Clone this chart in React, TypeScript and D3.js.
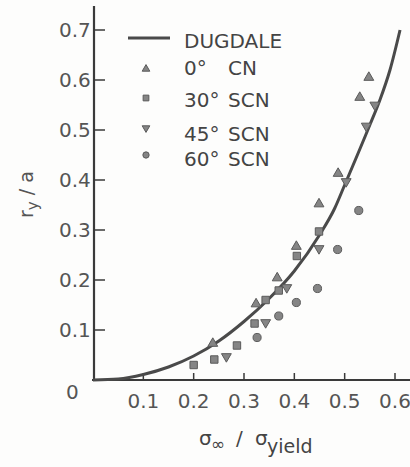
import React, { useRef, useEffect } from 'react';
import * as d3 from 'd3';

// Dugdale curve
const curveX = [0, 0.05, 0.1, 0.15, 0.2, 0.25, 0.3, 0.35, 0.4, 0.45, 0.48, 0.5, 0.55, 0.57, 0.59, 0.61];
const curveY = [0, 0.002, 0.011, 0.026, 0.048, 0.078, 0.117, 0.163, 0.218, 0.29, 0.343, 0.39, 0.51, 0.56, 0.62, 0.7];

// 0 deg CN (triangle up)
const cnX = [0.238, 0.324, 0.366, 0.404, 0.449, 0.487, 0.53, 0.548];
const cnY = [0.073, 0.152, 0.204, 0.267, 0.352, 0.413, 0.565, 0.605];
// 30 deg SCN (square)
const scn30X = [0.2, 0.241, 0.286, 0.321, 0.343, 0.369, 0.405, 0.449];
const scn30Y = [0.03, 0.041, 0.069, 0.113, 0.16, 0.179, 0.248, 0.297];
// 45 deg SCN (triangle down)
const scn45X = [0.265, 0.343, 0.385, 0.449, 0.503, 0.543, 0.56];
const scn45Y = [0.047, 0.115, 0.185, 0.263, 0.397, 0.508, 0.55];
// 60 deg SCN (circle)
const scn60X = [0.326, 0.369, 0.404, 0.446, 0.486, 0.528];
const scn60Y = [0.085, 0.128, 0.155, 0.183, 0.261, 0.339];

const xTicks = [0.1, 0.2, 0.3, 0.4, 0.5, 0.6];
const yTicks = [0.1, 0.2, 0.3, 0.4, 0.5, 0.6, 0.7];
const legendAngles = ['0°', '30°', '45°', '60°'];
const legendNames = ['CN', 'SCN', 'SCN', 'SCN'];

const ink = '#3a3a3a';
const markFill = '#858585';
const font = 'DejaVu Sans, Arial, sans-serif';

const App = () => {
  const ref = useRef<SVGSVGElement>(null);

  useEffect(() => {
    if (!ref.current) return;
    const svg = d3.select(ref.current);
    svg.selectAll('*').remove();

    const x = d3.scaleLinear().domain([0, 0.6]).range([93, 395]);
    const y = d3.scaleLinear().domain([0, 0.7]).range([380, 30]);

    svg.append('rect').attr('width', 410).attr('height', 467).attr('fill', '#fdfdfc');

    // axes
    svg.append('line').attr('x1', 94).attr('x2', 94).attr('y1', 6).attr('y2', 381)
      .attr('stroke', ink).attr('stroke-width', 2.2);
    svg.append('line').attr('x1', 92).attr('x2', 410).attr('y1', 380).attr('y2', 380)
      .attr('stroke', ink).attr('stroke-width', 2.2);

    yTicks.forEach(t => {
      svg.append('line').attr('x1', 94).attr('x2', 105).attr('y1', y(t)).attr('y2', y(t))
        .attr('stroke', ink).attr('stroke-width', 1.5);
      svg.append('text').attr('x', 59).attr('y', y(t)).attr('dy', '0.36em')
        .attr('font-family', font).attr('font-size', 20).attr('fill', '#555')
        .text(String(t));
    });
    svg.append('text').attr('x', 66).attr('y', 399)
      .attr('font-family', font).attr('font-size', 20).attr('fill', '#555').text('0');

    xTicks.forEach(t => {
      svg.append('line').attr('x1', x(t)).attr('x2', x(t)).attr('y1', 380).attr('y2', 373)
        .attr('stroke', ink).attr('stroke-width', 1.5);
      svg.append('text').attr('x', x(t)).attr('y', 408).attr('text-anchor', 'middle')
        .attr('font-family', font).attr('font-size', 20).attr('fill', '#555')
        .text(String(t));
    });

    // axis titles
    const xt = svg.append('text').attr('y', 445)
      .attr('font-family', font).attr('font-size', 20).attr('fill', '#444');
    xt.append('tspan').attr('x', 199).text('σ');
    xt.append('tspan').attr('x', 211).attr('dy', 5).attr('font-size', 17).text('∞');
    xt.append('tspan').attr('x', 236).attr('dy', -5).text('/');
    xt.append('tspan').attr('x', 255).text('σ');
    xt.append('tspan').attr('x', 267).attr('dy', 8).attr('font-size', 19).text('yield');

    const yt = svg.append('text').attr('transform', 'translate(33,218) rotate(-90)')
      .attr('font-family', font).attr('font-size', 19).attr('fill', '#555');
    yt.append('tspan').text('r');
    yt.append('tspan').attr('dy', 5).attr('font-size', 15).text('y');
    yt.append('tspan').attr('dy', -5).text(' / a');

    // Dugdale curve
    const line = d3.line<number>()
      .x((d, i) => x(curveX[i]))
      .y(d => y(d))
      .curve(d3.curveMonotoneX);
    svg.append('path').datum(curveY).attr('d', line).attr('fill', 'none')
      .attr('stroke', '#4a4a4a').attr('stroke-width', 3);

    // markers
    const series = [
      { xs: cnX, ys: cnY, type: d3.symbolTriangle, size: 42, rot: 0 },
      { xs: scn30X, ys: scn30Y, type: d3.symbolSquare, size: 55, rot: 0 },
      { xs: scn45X, ys: scn45Y, type: d3.symbolTriangle, size: 42, rot: 180 },
      { xs: scn60X, ys: scn60Y, type: d3.symbolCircle, size: 52, rot: 0 },
    ];
    series.forEach(s => {
      const path = d3.symbol().type(s.type).size(s.size)();
      svg.append('g').selectAll('path').data(s.ys).join('path')
        .attr('d', path)
        .attr('transform', (d, i) => `translate(${x(s.xs[i])},${y(d)}) rotate(${s.rot})`)
        .attr('fill', markFill).attr('stroke', '#5a5a5a').attr('stroke-width', 1);
    });

    // legend
    svg.append('line').attr('x1', 128).attr('x2', 170).attr('y1', 38).attr('y2', 38)
      .attr('stroke', '#4a4a4a').attr('stroke-width', 3);
    svg.append('text').attr('x', 184).attr('y', 48)
      .attr('font-family', font).attr('font-size', 20).attr('fill', '#444').text('DUGDALE');
    const rowY = [69, 98, 128, 155];
    const baseY = [75, 107, 141, 166];
    series.forEach((s, i) => {
      svg.append('path').attr('d', d3.symbol().type(s.type).size(s.size * 0.6)())
        .attr('transform', `translate(146,${rowY[i]}) rotate(${s.rot})`)
        .attr('fill', markFill).attr('stroke', '#5a5a5a').attr('stroke-width', 1);
      svg.append('text').attr('x', 184).attr('y', baseY[i])
        .attr('font-family', font).attr('font-size', 20).attr('fill', '#444').text(legendAngles[i]);
      svg.append('text').attr('x', 228).attr('y', baseY[i])
        .attr('font-family', font).attr('font-size', 20).attr('fill', '#444').text(legendNames[i]);
    });
  }, []);

  return (
    <svg ref={ref} width={410} height={467}
      style={{ position: 'absolute', left: 0, top: 0, display: 'block' }} />
  );
};

export default App;
